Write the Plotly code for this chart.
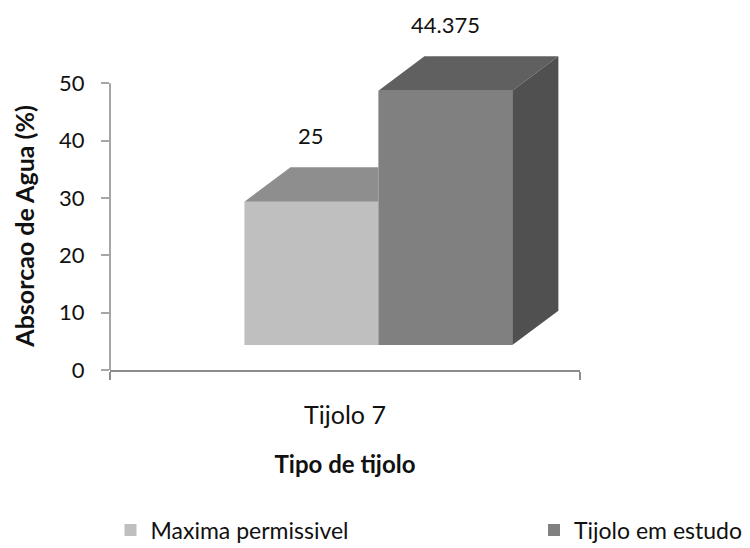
import plotly.graph_objects as go

# ---- data ----
categories = ["Tijolo 7"]
series_names = ["Maxima permissivel", "Tijolo em estudo"]
series_values = [25, 44.375]
value_labels = ["25", "44.375"]
y_ticks = [0, 10, 20, 30, 40, 50]

# ---- styling ----
front_colors = ["#BFBFBF", "#808080"]
top_colors = ["#8E8E8E", "#606060"]
side_colors = ["#6E6E6E", "#505050"]
FONT = "Lato"
TEXT = "#111111"

# 3-D column geometry, in axis units
GROUP_LEFT = -0.214   # left edge of the first column's front face
BAR_W = 0.285         # column width
DEPTH_DX = 0.098      # horizontal offset of the back face
DEPTH_DY = 6.0        # vertical offset of the back face
FLOOR = 4.35          # front faces stand on the floor's front edge

fig = go.Figure()

lefts = [GROUP_LEFT + i * BAR_W for i in range(len(series_values))]
tops = [FLOOR + v for v in series_values]
legend_ids = ["legend", "legend2"]

# front faces: ordinary bars lifted onto the floor
for i, (name, v) in enumerate(zip(series_names, series_values)):
    fig.add_bar(
        x=[lefts[i] + BAR_W / 2], y=[v], base=[FLOOR], width=[BAR_W],
        name=name, marker=dict(color=front_colors[i], line_width=0),
        hoverinfo="skip", legend=legend_ids[i],
    )

# top and side faces
for i, v in enumerate(series_values):
    x0, x1, top = lefts[i], lefts[i] + BAR_W, tops[i]
    hidden_right = i + 1 < len(series_values) and tops[i + 1] >= top
    if hidden_right:
        tx = [x0, x1, x1, x0 + DEPTH_DX, x0]
    else:
        tx = [x0, x1, x1 + DEPTH_DX, x0 + DEPTH_DX, x0]
    ty = [top, top, top + DEPTH_DY, top + DEPTH_DY, top]
    fig.add_scatter(x=tx, y=ty, fill="toself", fillcolor=top_colors[i],
                    mode="lines", line=dict(width=0), showlegend=False,
                    hoverinfo="skip")
    if not hidden_right:
        sx = [x1, x1, x1 + DEPTH_DX, x1 + DEPTH_DX, x1]
        sy = [FLOOR, top, top + DEPTH_DY, FLOOR + DEPTH_DY, FLOOR]
        fig.add_scatter(x=sx, y=sy, fill="toself", fillcolor=side_colors[i],
                        mode="lines", line=dict(width=0), showlegend=False,
                        hoverinfo="skip")
    # value label above each column
    fig.add_annotation(x=x0 + BAR_W / 2, y=top + DEPTH_DY, text=value_labels[i],
                       showarrow=False, yshift=32, yanchor="middle",
                       font=dict(family=FONT, size=22, color=TEXT))

# vertical axis line, only up to the last tick
fig.add_shape(type="line", xref="paper", yref="y", x0=0, x1=0,
              y0=y_ticks[0], y1=y_ticks[-1],
              line=dict(color="#A6A6A6", width=2))

# vertical axis title
fig.add_annotation(xref="paper", yref="y", x=0, y=(y_ticks[0] + y_ticks[-1]) / 2,
                   xshift=-86, xanchor="center", yanchor="middle",
                   text="Absorcao de Agua (%)", textangle=-90, showarrow=False,
                   font=dict(family=FONT, size=25, color=TEXT, weight="bold"))

legend_style = dict(
    orientation="h", xref="container", yref="container",
    y=1 - 530 / 548, xanchor="left", yanchor="middle",
    font=dict(family=FONT, size=23, color=TEXT), bgcolor="rgba(0,0,0,0)",
)

fig.update_layout(
    width=750, height=548,
    margin=dict(l=109.5, r=170, t=25.6, b=178),
    plot_bgcolor="white", paper_bgcolor="white",
    barmode="overlay",
    font=dict(family=FONT, size=22, color=TEXT),
    xaxis=dict(
        range=[-0.5, 0.5], tickvals=[0], ticktext=categories, ticks="",
        ticklabelstandoff=22, tickfont=dict(size=25),
        showline=True, linecolor="#8C8C8C", linewidth=2,
        showgrid=False, zeroline=False,
        minor=dict(tickvals=[-0.5, 0.5], ticks="outside", ticklen=8,
                   tickcolor="#8C8C8C", tickwidth=2, showgrid=False),
        title=dict(text="Tipo de tijolo", standoff=28,
                   font=dict(family=FONT, size=24, color=TEXT, weight="bold")),
        fixedrange=True,
    ),
    yaxis=dict(
        range=[0, 60], tickvals=y_ticks, ticks="outside", ticklen=8,
        tickcolor="#A6A6A6", tickwidth=2, showline=False, showgrid=False,
        zeroline=False, fixedrange=True, ticklabelstandoff=12,
    ),
    legend=dict(x=(128.5 - 18) / 750, **legend_style),
    legend2=dict(x=(554 - 20) / 750, **legend_style),
    showlegend=True,
)

fig.write_html("out.html")
